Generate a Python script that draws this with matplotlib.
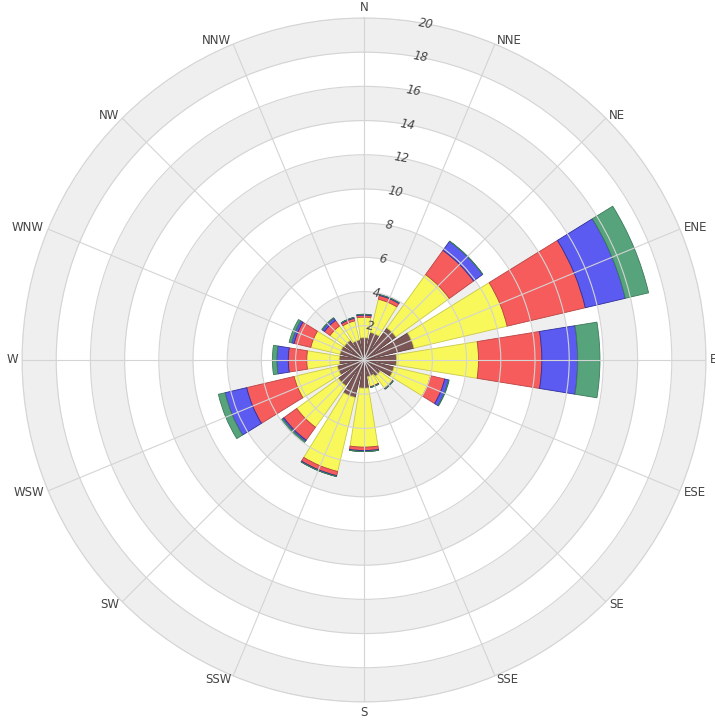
#!/usr/bin/env python3
"""Wind rose: stacked frequency bars for 16 compass sectors."""

from __future__ import annotations

import matplotlib

matplotlib.use("Agg")
import matplotlib.pyplot as plt
import numpy as np

DIRECTIONS = ["N", "NNE", "NE", "ENE", "E", "ESE", "SE", "SSE",
              "S", "SSW", "SW", "WSW", "W", "WNW", "NW", "NNW"]

# frequency (%) per speed class, one value per direction
CLASS_1 = [1.30, 1.65, 2.30, 3.00, 1.90, 1.80, 1.15, 1.00, 1.65, 2.25, 1.85, 1.60, 1.45, 1.45, 1.40, 1.20]
CLASS_2 = [1.20, 2.00, 3.85, 5.60, 4.80, 2.20, 0.90, 0.60, 3.45, 4.45, 3.00, 2.60, 1.90, 1.75, 1.05, 1.15]
CLASS_3 = [0.12, 0.23, 1.75, 4.70, 3.70, 0.85, 0.03, 0.03, 0.20, 0.25, 0.93, 2.85, 1.08, 1.00, 0.40, 0.15]
CLASS_4 = [0.05, 0.05, 0.65, 2.40, 2.10, 0.23, 0.02, 0.02, 0.05, 0.05, 0.09, 1.30, 0.67, 0.15, 0.15, 0.05]
CLASS_5 = [0.00, 0.00, 0.02, 1.40, 1.30, 0.04, 0.00, 0.00, 0.00, 0.00, 0.08, 0.40, 0.26, 0.15, 0.05, 0.00]

CLASS_COLORS = ["#7b5656", "#f8f85a", "#f65c5c", "#5b5bf2", "#56a37c"]
EDGE_COLORS = ["#5a3c3c", "#c8c84a", "#b84444", "#2e2e9a", "#3c7a5a"]

R_TICKS = [2, 4, 6, 8, 10, 12, 14, 16, 18, 20]


def main() -> int:
    fig = plt.figure(figsize=(7.15, 7.21), dpi=100)
    ax = fig.add_axes([0.0308, 0.0264, 0.9566, 0.9487], projection="polar")
    ax.set_theta_zero_location("N")
    ax.set_theta_direction(-1)
    ax.set_ylim(0, 20)

    # alternating grey rings
    full = np.linspace(0, 2 * np.pi, 361)
    for lo in range(2, 20, 4):
        ax.fill_between(full, lo, lo + 2, color="#efefef", lw=0, zorder=0)

    theta = np.deg2rad(np.arange(16) * 22.5)
    width = np.deg2rad(22.5) * 0.82
    bottom = np.zeros(16)
    for values, color, edge in zip([CLASS_1, CLASS_2, CLASS_3, CLASS_4, CLASS_5], CLASS_COLORS, EDGE_COLORS):
        vals = np.array(values)
        ax.bar(theta, vals, width=width, bottom=bottom, color=color, edgecolor=edge,
               linewidth=0.6, zorder=2)
        bottom += vals

    ax.set_xticks(theta)
    ax.set_xticklabels([])
    ax.set_yticks(R_TICKS)
    ax.set_yticklabels([])
    ax.grid(True, color="#d4d4d4", linewidth=0.8, zorder=3)
    ax.set_axisbelow(False)
    ax.spines["polar"].set_color("#d8d8d8")
    ax.spines["polar"].set_linewidth(0.8)

    # compass labels, hugging the outer ring
    for ang, name in zip(theta, DIRECTIONS):
        s, c = np.sin(ang), np.cos(ang)
        ha = "left" if s > 0.1 else ("right" if s < -0.1 else "center")
        va = "bottom" if c > 0.97 else ("top" if c < -0.97 else "center")
        ax.text(ang, 20.25, name, ha=ha, va=va, fontsize=8.5, color="#444444", clip_on=False)

    # radial labels along a line just east of north
    for r in R_TICKS:
        ax.text(np.deg2rad(10.5), r, str(r), ha="center", va="center", rotation=-10,
                fontsize=8.5, style="italic", color="#444444", zorder=4)

    fig.savefig("out.png", dpi=100)
    plt.close(fig)
    return 0


if __name__ == "__main__":
    raise SystemExit(main())
